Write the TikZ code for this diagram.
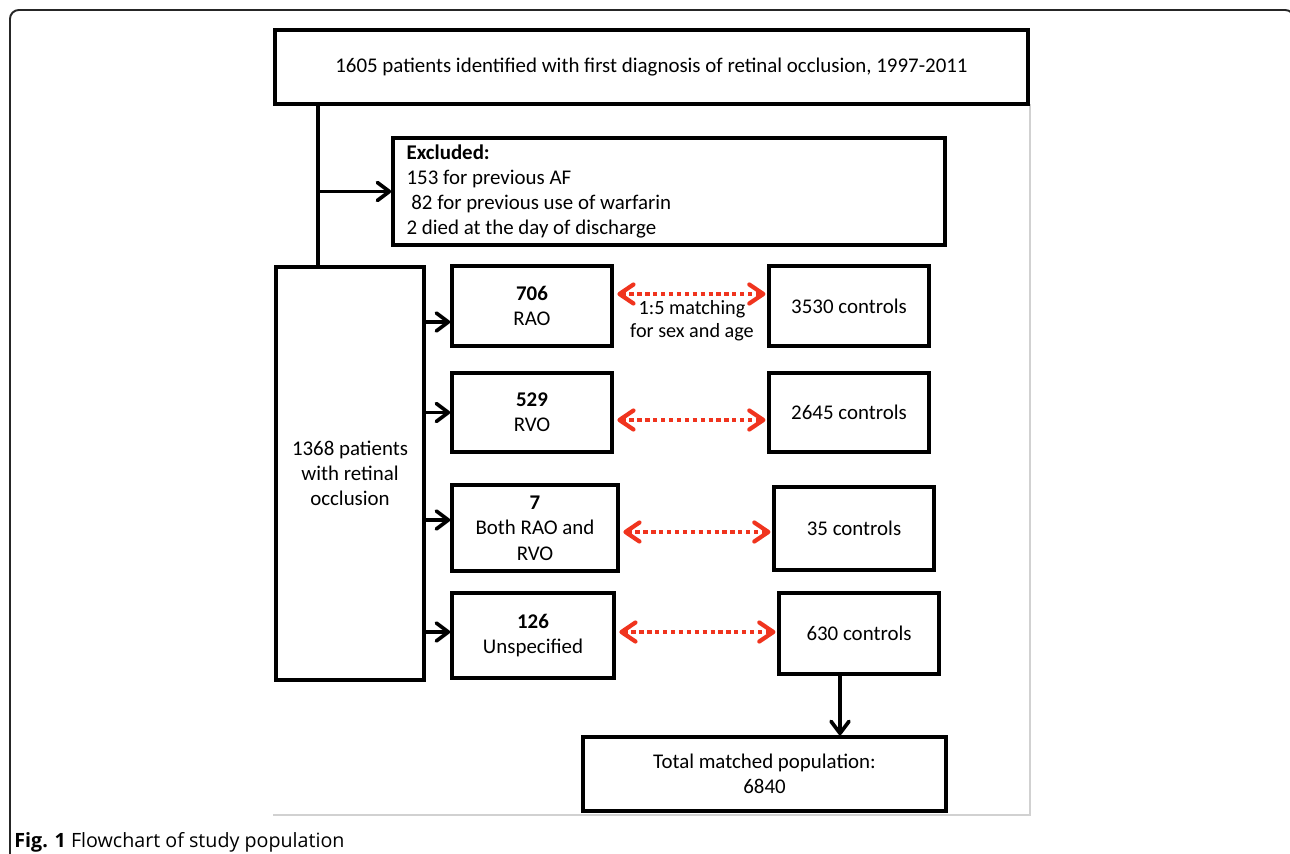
\documentclass[tikz,border=0pt]{standalone}
\usepackage{fontspec}
\setmainfont{Carlito}
\newfontfamily\capfont{Open Sans}
\usetikzlibrary{arrows.meta,positioning}
\definecolor{matchred}{RGB}{240,52,30}

\begin{document}
\begin{tikzpicture}[x=0.02cm,y=-0.02cm,font=\fontsize{11.9}{14.4}\selectfont]
  \useasboundingbox (0,0) rectangle (1290,854);
  % frame of the figure and of the chart
  \draw[line width=1.1pt,black!85,rounded corners=5pt] (10,880) -- (10,10) -- (1294,10) -- (1294,880);
  \draw[black!18,line width=0.8pt] (273,815) -- (1030,815) -- (1030,104);
  \begin{scope}[every node/.style={draw,line width=2.1pt,align=center,inner sep=0pt}]
    \node (top) [minimum width=15.06cm,minimum height=1.48cm] at (651.5,67)
      {1605 patients identified with first diagnosis of retinal occlusion, 1997-2011};
    \node (excl) [minimum width=11.04cm,minimum height=2.14cm,text width=10.5cm,align=flush left] at (669,191.5)
      {\textbf{Excluded:}\\153 for previous AF\\\hspace*{0.23em}82 for previous use of warfarin\\2 died at the day of discharge};
    \node (left) [minimum width=2.96cm,minimum height=8.26cm] at (350,473.5)
      {1368 patients\\with retinal\\occlusion};
    \node (rao) [minimum width=3.2cm,minimum height=1.6cm] at (532,306) {\textbf{706}\\RAO};
    \node (rvo) [minimum width=3.2cm,minimum height=1.58cm] at (532,412.5) {\textbf{529}\\RVO};
    \node (both) [minimum width=3.32cm,minimum height=1.72cm] at (535,528) {\textbf{7}\\Both RAO and\\RVO};
    \node (unsp) [minimum width=3.24cm,minimum height=1.7cm] at (533,635.5) {\textbf{126}\\Unspecified};
    \node (crao) [minimum width=3.2cm,minimum height=1.6cm] at (849,306) {3530 controls};
    \node (crvo) [minimum width=3.2cm,minimum height=1.58cm] at (849,412.5) {2645 controls};
    \node (cboth) [minimum width=3.2cm,minimum height=1.66cm] at (854,528.5) {35 controls};
    \node (cunsp) [minimum width=3.2cm,minimum height=1.62cm] at (859,633.5) {630 controls};
    \node (total) [minimum width=7.26cm,minimum height=1.48cm] at (764.5,774)
      {Total matched population:\\6840};
  \end{scope}
  \node (match) [align=center,font=\fontsize{11.5}{13.1}\selectfont] at (692,321) {1:5 matching\\for sex and age};
  \node (cap) [anchor=base west,inner sep=0pt] at (14,847)
    {\capfont\fontsize{11.2}{13}\selectfont\textbf{Fig. 1} Flowchart of study population};

  \coordinate (trunk) at (318,195);
  \draw[line width=2.1pt] (top.south -| trunk) -- (left.north -| trunk);
  \begin{scope}
    [every edge/.style={draw,line width=2.1pt,-{Straight Barb[length=2.4mm,width=3.6mm,line width=2.1pt,round]}}]
    \path (trunk |- excl.west) edge (excl.west);
    \path ([yshift=-0.32cm]rao.west -| left.east) edge ([yshift=-0.32cm]rao.west);
    \path (rvo.west -| left.east) edge (rvo.west);
    \path ([yshift=0.16cm]both.west -| left.east) edge ([yshift=0.16cm]both.west);
    \path ([yshift=0.07cm]unsp.west -| left.east) edge ([yshift=0.07cm]unsp.west);
    \path ([xshift=-0.38cm]cunsp.south) edge ([xshift=-0.38cm]cunsp.south |- total.north);
  \end{scope}
  \begin{scope}
    [every edge/.style={draw=matchred,line width=2.2pt,dash pattern=on 2.4pt off 2.1pt,
      {Straight Barb[length=2.8mm,width=3.8mm,line width=2.4pt,round]}-{Straight Barb[length=2.8mm,width=3.8mm,line width=2.4pt,round]},
      shorten <=2pt,shorten >=1pt}]
    \path ([yshift=0.24cm]rao.east) edge ([yshift=0.24cm]rao.east -| crao.west);
    \path ([yshift=-0.15cm]rvo.east) edge ([yshift=-0.15cm]rvo.east -| crvo.west);
    \path ([yshift=-0.08cm]both.east) edge ([yshift=-0.08cm]both.east -| cboth.west);
    \path ([yshift=0.07cm]unsp.east) edge ([yshift=0.07cm]unsp.east -| cunsp.west);
  \end{scope}
\end{tikzpicture}
\end{document}
